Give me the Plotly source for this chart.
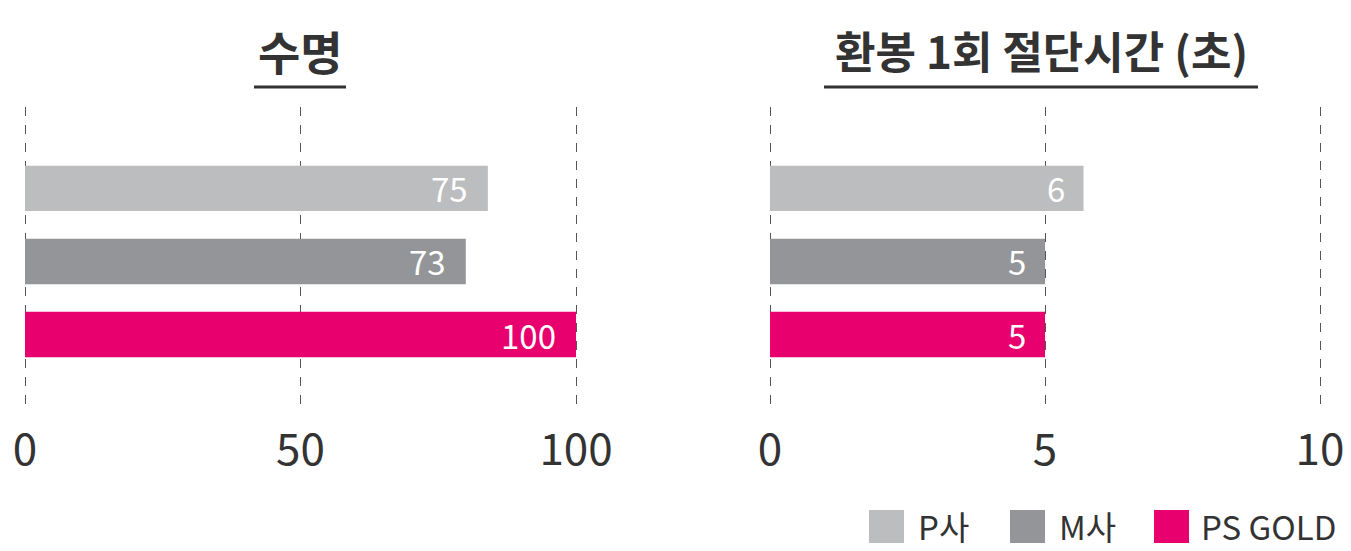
import plotly.graph_objects as go

# ---- data ----
companies = ["P사", "M사", "PS GOLD"]
colors = ["#bcbdbf", "#939598", "#e8006e"]

life_bar_values = [84, 80, 100]          # drawn bar lengths (수명)
life_labels = ["75", "73", "100"]        # printed labels
cut_bar_values = [5.7, 5.0, 5.0]         # drawn bar lengths (절단시간)
cut_labels = ["6", "5", "5"]

left_title = "수명"
right_title = "환봉 1회 절단시간 (초)"
left_ticks = [0, 50, 100]
right_ticks = [0, 5, 10]

FONT = "Noto Sans CJK KR"
W, H = 1351, 551

fig = go.Figure()

fig.add_trace(go.Bar(
    x=life_bar_values, y=companies, orientation="h",
    marker=dict(color=colors, line=dict(width=0)),
    width=0.62, xaxis="x", yaxis="y", showlegend=False, hoverinfo="skip"))
fig.add_trace(go.Bar(
    x=cut_bar_values, y=companies, orientation="h",
    marker=dict(color=colors, line=dict(width=0)),
    width=0.62, xaxis="x2", yaxis="y2", showlegend=False, hoverinfo="skip"))

annotations = []
for i, (v, t) in enumerate(zip(life_bar_values, life_labels)):
    annotations.append(dict(x=v, y=companies[i], xref="x", yref="y", text=t,
                            showarrow=False, xanchor="right", xshift=-18,
                            font=dict(family=FONT, size=33, color="white")))
for i, (v, t) in enumerate(zip(cut_bar_values, cut_labels)):
    annotations.append(dict(x=v, y=companies[i], xref="x2", yref="y2", text=t,
                            showarrow=False, xanchor="right", xshift=-17,
                            font=dict(family=FONT, size=33, color="white")))

# titles
annotations.append(dict(x=300 / W, y=1 - 50 / H, xref="paper", yref="paper",
                        text=left_title, showarrow=False, xanchor="center", yanchor="middle",
                        font=dict(family=FONT, size=46, color="#333333", weight="bold")))
annotations.append(dict(x=1041 / W, y=1 - 50 / H, xref="paper", yref="paper",
                        text=right_title, showarrow=False, xanchor="center", yanchor="middle",
                        font=dict(family=FONT, size=44, color="#333333", weight="bold")))

shapes = [
    dict(type="line", xref="paper", yref="paper", x0=254 / W, x1=346 / W,
         y0=1 - 87 / H, y1=1 - 87 / H, line=dict(color="#333333", width=3)),
    dict(type="line", xref="paper", yref="paper", x0=824 / W, x1=1258 / W,
         y0=1 - 87 / H, y1=1 - 87 / H, line=dict(color="#333333", width=3)),
]

# custom legend
leg_sq_x = [869, 1010, 1154]
leg_tx_x = [916, 1057, 1199]
for i, name in enumerate(companies):
    shapes.append(dict(type="rect", xref="paper", yref="paper",
                       x0=leg_sq_x[i] / W, x1=(leg_sq_x[i] + 35) / W,
                       y0=1 - 543 / H, y1=1 - 510 / H,
                       fillcolor=colors[i], line=dict(width=0)))
    annotations.append(dict(x=leg_tx_x[i] / W, y=1 - 526 / H, xref="paper", yref="paper",
                            text=name, showarrow=False, xanchor="left", yanchor="middle",
                            font=dict(family=FONT, size=33, color="#333333")))

y_common = dict(categoryorder="array", categoryarray=companies,
                range=[3.034, -1.116], showticklabels=False, showgrid=False,
                zeroline=False, showline=False, fixedrange=True, automargin=False)
x_common = dict(showgrid=True, griddash="dash", gridcolor="#555555", gridwidth=1.3,
                zeroline=False, showline=False, ticks="", automargin=False,
                ticklabelstandoff=10,
                tickfont=dict(family=FONT, size=44, color="#333333"))

ydom = [1 - 410 / H, 1 - 107 / H]
fig.update_layout(
    width=W, height=H,
    margin=dict(l=0, r=0, t=0, b=0, pad=0, autoexpand=False),
    paper_bgcolor="white", plot_bgcolor="white",
    showlegend=False,
    xaxis=dict(domain=[(25 - 5.51) / W, (576 + 5.51) / W], range=[-1, 101],
               tickvals=left_ticks, anchor="y", **x_common),
    yaxis=dict(domain=ydom, anchor="x", **y_common),
    xaxis2=dict(domain=[(770 - 5.5) / W, (1320 + 5.5) / W], range=[-0.1, 10.1],
                tickvals=right_ticks, anchor="y2", **x_common),
    yaxis2=dict(domain=ydom, anchor="x2", **y_common),
    annotations=annotations,
    shapes=shapes,
    font=dict(family=FONT),
)

fig.write_html(
    "out.html",
    config={"displayModeBar": False},
    post_script="document.body.style.margin='0';document.body.style.overflow='hidden';",
)
